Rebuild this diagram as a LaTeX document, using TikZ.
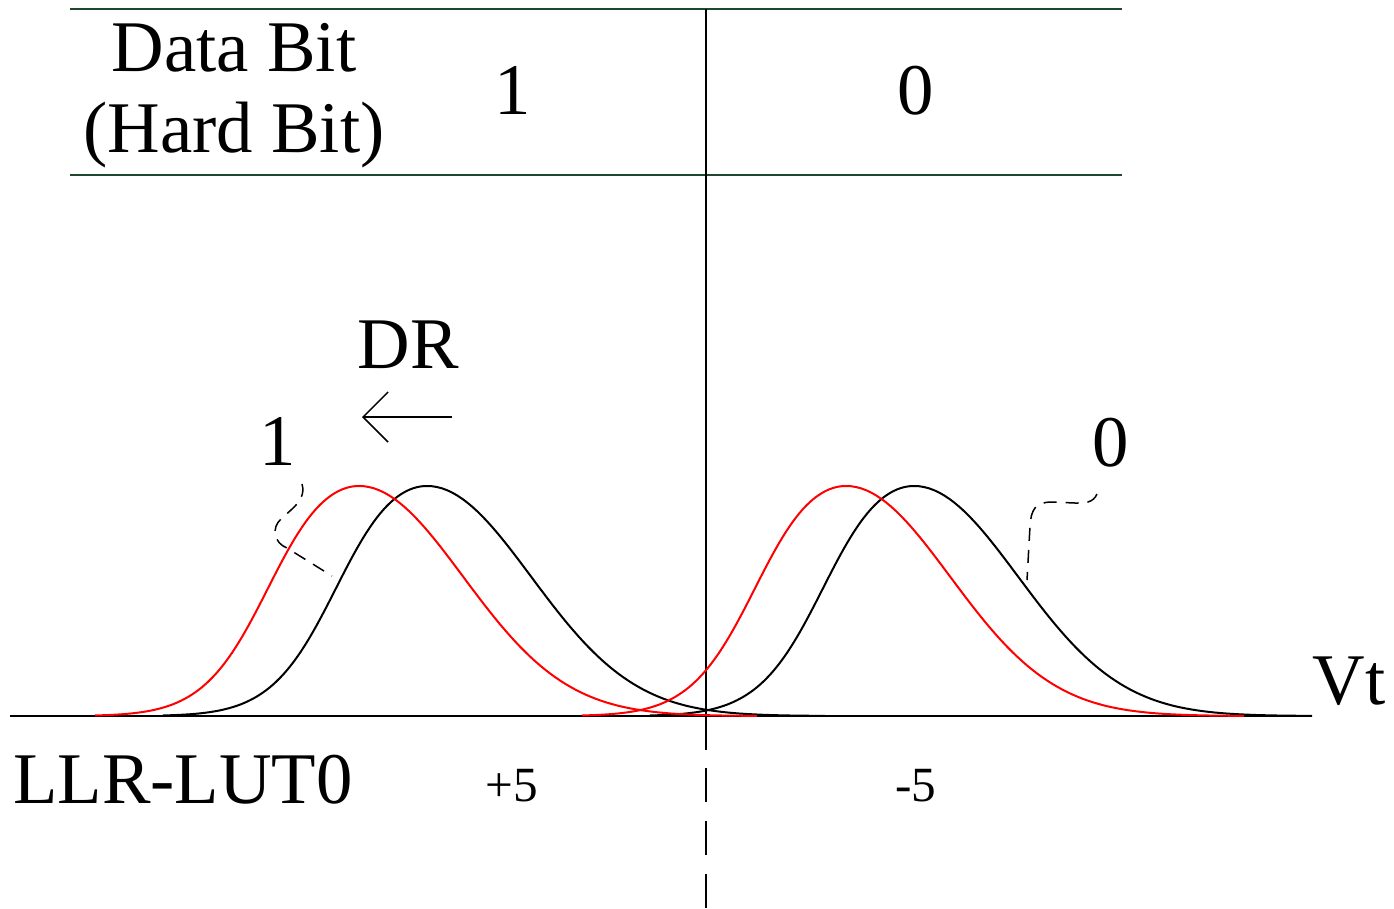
\documentclass[tikz,border=0pt]{standalone}
\usepackage{fontspec}
\setmainfont{Liberation Serif}
\usetikzlibrary{arrows.meta}

\definecolor{rulegreen}{RGB}{31,73,45}

\begin{document}
\begin{tikzpicture}[x=0.1mm,y=-0.1mm,
  big/.style={font=\fontsize{20.7}{23}\selectfont,inner sep=0pt},
  small/.style={font=\fontsize{14}{16}\selectfont,inner sep=0pt},
  curve/.style={line width=0.2mm},
  leader/.style={line width=0.15mm,dash pattern=on 1.3mm off 0.9mm}]

\useasboundingbox (0,0) rectangle (1394,908);

% Parameters
\def\axisy{716}   % Vt axis
\def\peaky{486}   % top of every curve
\def\hgt{230}     % curve height
\def\midx{706}    % read level

% Table rules
\draw[rulegreen,line width=0.22mm] (70,9) -- (1122,9);
\draw[rulegreen,line width=0.22mm] (70,175) -- (1122,175);

% Read level (solid, dashed below the axis)
\draw[line width=0.2mm] (\midx,9) -- (\midx,750);
\draw[line width=0.2mm,dash pattern=on 3.4mm off 1.9mm] (\midx,768) -- (\midx,908);

% Axis
\draw[line width=0.25mm] (10,\axisy) -- (1312,\axisy);

% Distributions (one shape, shifted): steeper left flank, gaussian right flank
\foreach \px/\col in {427/black,914/black,359/red,846/red}{
  \draw[curve,\col,shift={(\px,\peaky)}]
    plot[domain=-264:0,samples=80]
      ({\x},{\hgt*(1-exp(-((\x/(76+22*exp(-((\x/90)^2))))^2)/2))})
    -- plot[domain=0:398,samples=80]
      ({\x},{\hgt*(1-exp(-((\x/104)^2)/2))});
}

% Table text
\node[big,anchor=base,align=center] (databit) at (234,152) {Data Bit\\(Hard Bit)};
\node[big,anchor=base] (hardone) at (513,114) {1};
\node[big,anchor=base] (hardzero) at (916,114) {0};

% Shift direction
\node[big,anchor=base] (dr) at (408,368) {DR};
\coordinate (drfrom) at (452,417);
\coordinate (drto) at (362,417);
\draw[line width=0.15mm,-{Straight Barb[length=2.5mm,width=5mm]}] (drfrom) -- (drto);

% Curve labels
\node[big,anchor=base] (lblone) at (278,465) {1};
\node[big,anchor=base] (lblzero) at (1111,466) {0};
\coordinate (onehead) at (302,484);
\coordinate (onefoot) at (332,576);
\coordinate (zerohead) at (1097,494);
\coordinate (zerofoot) at (1027,580);
\draw[leader] (onehead) .. controls (305,494) and (300,502) .. (291,510)
  -- (281,519) .. controls (271,528) and (274,543) .. (287,548) -- (onefoot);
\draw[leader] (zerohead) .. controls (1093,503) and (1085,503) .. (1075,503)
  -- (1052,502) .. controls (1035,502) and (1031,510) .. (1030,526) -- (zerofoot);

% Axis text
\node[big,anchor=base] (vt) at (1349,704) {Vt};
\node[big,anchor=base] (llr) at (183,803) {LLR-LUT0};
\node[small,anchor=base] (plusfive) at (512,801) {+5};
\node[small,anchor=base] (minusfive) at (916,801) {-5};

\end{tikzpicture}
\end{document}
